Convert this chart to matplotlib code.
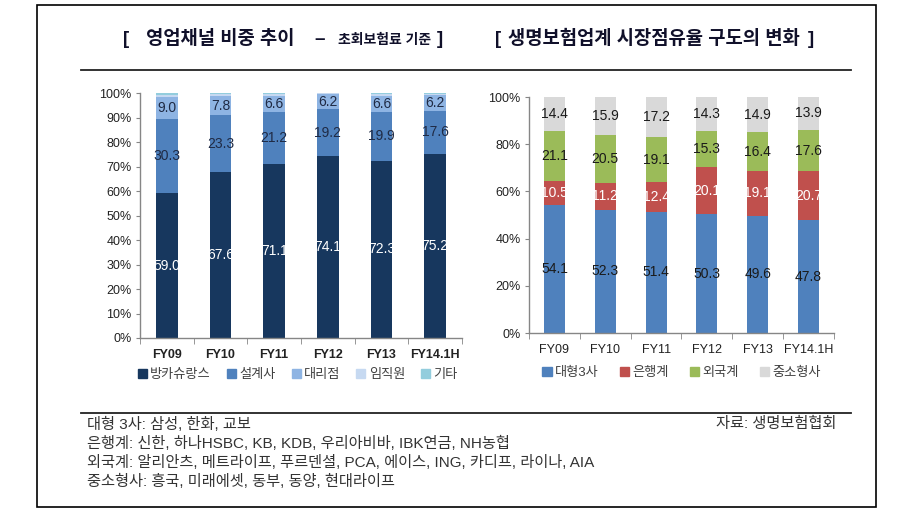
import numpy as np
import matplotlib
matplotlib.use("Agg")
import matplotlib.pyplot as plt
from matplotlib.lines import Line2D
from matplotlib.patches import Rectangle

plt.rcParams['font.family'] = ['Liberation Sans', 'Noto Sans CJK KR']

# ---------------------------------------------------------------- data
years = ["FY09", "FY10", "FY11", "FY12", "FY13", "FY14.1H"]

# left: sales-channel share (first-year premium basis)
bancassurance = [59.0, 67.6, 71.1, 74.1, 72.3, 75.2]
planners = [30.3, 23.3, 21.2, 19.2, 19.9, 17.6]
agencies = [9.0, 7.8, 6.6, 6.2, 6.6, 6.2]
employees = [1.0, 0.8, 0.7, 0.3, 0.7, 0.6]
others = [0.7, 0.5, 0.4, 0.2, 0.5, 0.4]
channel_names = ["방카슈랑스", "설계사", "대리점", "임직원", "기타"]

# right: market share by group
big3 = [54.1, 52.3, 51.4, 50.3, 49.6, 47.8]
bank = [10.5, 11.2, 12.4, 20.1, 19.1, 20.7]
foreign = [21.1, 20.5, 19.1, 15.3, 16.4, 17.6]
small = [14.4, 15.9, 17.2, 14.3, 14.9, 13.9]
group_names = ["대형3사", "은행계", "외국계", "중소형사"]

notes = ["대형 3사: 삼성, 한화, 교보",
         "은행계: 신한, 하나HSBC, KB, KDB, 우리아비바, IBK연금, NH농협",
         "외국계: 알리안츠, 메트라이프, 푸르덴셜, PCA, 에이스, ING, 카디프, 라이나, AIA",
         "중소형사: 흥국, 미래에셋, 동부, 동양, 현대라이프"]
source = "자료: 생명보험협회"

W, H = 912, 517
fig = plt.figure(figsize=(W / 100, H / 100), dpi=100)


def fx(px):
    return px / W


def fy(py):
    return 1 - py / H


def style_axes(ax, yticks, bold_x):
    x = np.arange(len(years))
    ax.set_xlim(-0.5, len(years) - 0.5)
    ax.set_ylim(0, 100)
    ax.set_yticks(yticks)
    ax.set_yticklabels([f"{t}%" for t in yticks], fontsize=9, color="#222222")
    ax.set_xticks(x)
    ax.set_xticklabels(years, fontsize=9, color="#222222",
                       fontweight="bold" if bold_x else "normal")
    ax.set_xticks(np.arange(-0.5, len(years)), minor=True)
    ax.tick_params(axis="x", which="major", length=0, pad=8)
    ax.tick_params(axis="x", which="minor", length=4, color="#868686")
    ax.tick_params(axis="y", length=3, color="#868686", pad=3)
    for s in ("top", "right"):
        ax.spines[s].set_visible(False)
    for s in ("left", "bottom"):
        ax.spines[s].set_color("#868686")
        ax.spines[s].set_linewidth(1.0)


def stack(ax, series, colors, label_colors, width):
    x = np.arange(len(years))
    bottom = np.zeros(len(years))
    for vals, col, lc in zip(series, colors, label_colors):
        vals = np.array(vals)
        ax.bar(x, vals, width, bottom=bottom, color=col, linewidth=0)
        if lc is not None:
            for xi, b, v in zip(x, bottom, vals):
                ax.text(xi, b + v / 2, f"{v:.1f}", ha="center", va="center",
                        fontsize=10, color=lc)
        bottom += vals


# ---------------------------------------------------------------- left chart
ax1 = fig.add_axes([fx(140), fy(338), fx(322), 245 / H])
left_cols = ["#17375e", "#4f81bd", "#8eb4e3", "#c6d9f1", "#93cddd"]
stack(ax1, [bancassurance, planners, agencies, employees, others], left_cols,
      ["white", "#1f2a44", "#1f2a44", None, None], 0.4)
style_axes(ax1, range(0, 101, 10), True)
h1 = [Rectangle((0, 0), 1, 1, color=c) for c in left_cols]
ax1.legend(h1, channel_names, loc="center", bbox_to_anchor=(0.49, -0.15),
           ncol=5, frameon=False, fontsize=9.5, handlelength=0.7,
           handleheight=0.7, handletextpad=0.25, columnspacing=1.2,
           labelcolor="#404040")

# ---------------------------------------------------------------- right chart
ax2 = fig.add_axes([fx(529), fy(333), fx(305), 236 / H])
right_cols = ["#4f81bd", "#c0504d", "#9bbb59", "#d9d9d9"]
stack(ax2, [big3, bank, foreign, small], right_cols,
      ["#1a1a1a", "white", "#1a1a1a", "#1a1a1a"], 0.41)
style_axes(ax2, range(0, 101, 20), False)
h2 = [Rectangle((0, 0), 1, 1, color=c) for c in right_cols]
ax2.legend(h2, group_names, loc="center", bbox_to_anchor=(0.5, -0.17),
           ncol=4, frameon=False, fontsize=9.5, handlelength=0.7,
           handleheight=0.7, handletextpad=0.25, columnspacing=1.6,
           labelcolor="#404040")

# ---------------------------------------------------------------- titles & frame
tc = "#10102a"
big = dict(va="center", ha="center", fontsize=13.5, fontweight="bold", color=tc)
fig.text(fx(126), fy(39), "[", **big)
fig.text(fx(220), fy(39), "영업채널 비중 추이", **big)
fig.text(fx(320), fy(39), "–", **big)
fig.text(fx(385), fy(40), "초회보험료 기준", va="center", ha="center",
         fontsize=10, fontweight="bold", color=tc)
fig.text(fx(440), fy(39), "]", **big)
fig.text(fx(498), fy(39), "[", **big)
fig.text(fx(654), fy(39), "생명보험업계 시장점유율 구도의 변화", **big)
fig.text(fx(811), fy(39), "]", **big)

for y in (70, 413):
    fig.add_artist(Line2D([fx(81), fx(851)], [fy(y), fy(y)], color="#222222", lw=1.3))
fig.add_artist(Rectangle((fx(37), fy(507)), fx(876 - 37), (507 - 5) / H,
                         fill=False, edgecolor="black", lw=1.2))

for i, line in enumerate(notes):
    fig.text(fx(87), fy(424 + 19.3 * i), line, ha="left", va="center",
             fontsize=11, color="#333333")
fig.text(fx(836), fy(424), source, ha="right", va="center",
         fontsize=11, color="#333333")

fig.savefig("out.png", dpi=100)
